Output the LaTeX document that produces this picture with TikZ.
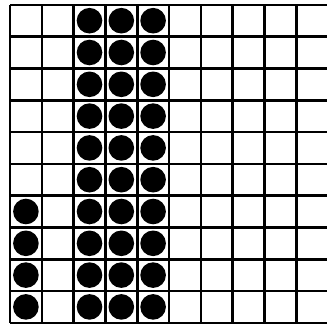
\documentclass[tikz,border=0pt]{standalone}
\begin{document}
\begin{tikzpicture}[x=1pt,y=-1pt,
  gridline/.style={line width=2.6pt,black},
  dot/.style={fill=black}]
\useasboundingbox (0,0) rectangle (327,324);
\def\xo{10}\def\yo{4.8}\def\s{31.8}
\foreach \k in {0,...,10}{
  \draw[gridline] ({\xo+\k*\s},{\yo}) -- ({\xo+\k*\s},{\yo+10*\s});
  \draw[gridline] ({\xo},{\yo+\k*\s}) -- ({\xo+10*\s},{\yo+\k*\s});
}
\foreach \c in {2,3,4}{
  \foreach \r in {0,...,9}{
    \fill[dot] ({\xo+(\c+0.5)*\s},{\yo+(\r+0.5)*\s}) circle (12.8);
  }
}
\foreach \r in {6,...,9}{
  \fill[dot] ({\xo+0.5*\s},{\yo+(\r+0.5)*\s}) circle (12.8);
}
\end{tikzpicture}
\end{document}
